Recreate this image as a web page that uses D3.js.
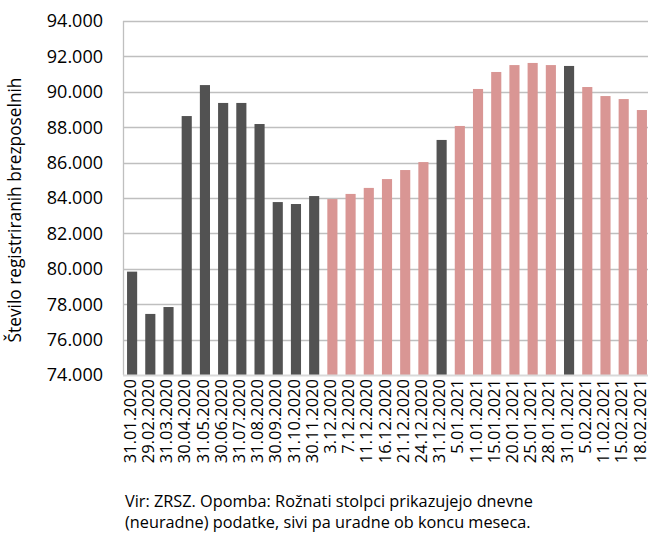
<!DOCTYPE html>
<html>
<head>
<meta charset="utf-8">
<script src="https://cdn.jsdelivr.net/npm/d3@7"></script>
<style>
  body { margin: 0; background: #ffffff; }
  svg { display: block; font-family: "Open Sans", sans-serif; }
</style>
</head>
<body>
<div id="chart"></div>
<script>
// dates (labels on the x axis)
var dates = [
  "31.01.2020", "29.02.2020", "31.03.2020", "30.04.2020", "31.05.2020", "30.06.2020",
  "31.07.2020", "31.08.2020", "30.09.2020", "31.10.2020", "30.11.2020",
  "3.12.2020", "7.12.2020", "11.12.2020", "16.12.2020", "21.12.2020", "24.12.2020",
  "31.12.2020",
  "5.01.2021", "11.01.2021", "15.01.2021", "20.01.2021", "25.01.2021", "28.01.2021",
  "31.01.2021",
  "5.02.2021", "11.02.2021", "15.02.2021", "18.02.2021"
]

// registered unemployed
var values = [
  79840, 77450, 77840, 88630, 90380, 89370,
  89370, 88180, 83770, 83660, 84110,
  83940, 84230, 84570, 85070, 85580, 86030,
  87280,
  88070, 90160, 91120, 91510, 91630, 91510,
  91460,
  90270, 89760, 89590, 88970
]

// official month-end figure (true) or daily unofficial (false)
var official = [
  true, true, true, true, true, true,
  true, true, true, true, true,
  false, false, false, false, false, false,
  true,
  false, false, false, false, false, false,
  true,
  false, false, false, false
]

var yTicks = [74000, 76000, 78000, 80000, 82000, 84000, 86000, 88000, 90000, 92000, 94000]

var noteLines = [
  "Vir: ZRSZ. Opomba: Rožnati stolpci prikazujejo dnevne",
  "(neuradne) podatke, sivi pa uradne ob koncu meseca."
]

var width = 648
var height = 533
var plot = { left: 123, right: 651, top: 21, bottom: 375 }

var svg = d3.select("#chart").append("svg")
  .attr("width", width)
  .attr("height", height)

var x = d3.scaleBand()
  .domain(dates)
  .range([plot.left, plot.right])
  .paddingInner(0.444)
  .paddingOuter(0.222)

var y = d3.scaleLinear()
  .domain([74000, 94000])
  .range([plot.bottom, plot.top])

var fmtThousands = function (v) {
  return d3.format(",.0f")(v).replace(/,/g, ".")
}

// gridlines
svg.append("g")
  .selectAll("line")
  .data(yTicks.slice(1))
  .enter().append("line")
  .attr("x1", plot.left)
  .attr("x2", width)
  .attr("y1", function (d) { return Math.round(y(d)) + 0.5 })
  .attr("y2", function (d) { return Math.round(y(d)) + 0.5 })
  .attr("stroke", "#bfbfbf")
  .attr("stroke-width", 1.3)

// left border
svg.append("line")
  .attr("x1", plot.left + 0.5)
  .attr("x2", plot.left + 0.5)
  .attr("y1", plot.top)
  .attr("y2", plot.bottom)
  .attr("stroke", "#bfbfbf")
  .attr("stroke-width", 1.3)

// bars
svg.append("g")
  .selectAll("rect")
  .data(values)
  .enter().append("rect")
  .attr("x", function (d, i) { return x(dates[i]) })
  .attr("width", x.bandwidth())
  .attr("y", function (d) { return y(d) })
  .attr("height", function (d) { return plot.bottom - y(d) })
  .attr("fill", function (d, i) { return official[i] ? "#525252" : "#d99694" })

// x axis line
svg.append("line")
  .attr("x1", plot.left)
  .attr("x2", width)
  .attr("y1", plot.bottom + 0.5)
  .attr("y2", plot.bottom + 0.5)
  .attr("stroke", "#d9d9d9")
  .attr("stroke-width", 2)

// y tick labels
svg.append("g")
  .selectAll("text")
  .data(yTicks)
  .enter().append("text")
  .attr("x", 103)
  .attr("y", function (d) { return y(d) })
  .attr("dy", "0.35em")
  .attr("text-anchor", "end")
  .attr("font-size", 18)
  .attr("fill", "#000")
  .text(fmtThousands)

// x tick labels
svg.append("g")
  .selectAll("text")
  .data(dates)
  .enter().append("text")
  .attr("transform", function (d) {
    return "translate(" + (x(d) + x.bandwidth() / 2 - 2) + "," + (plot.bottom + 4) + ") rotate(-90)"
  })
  .attr("dy", "0.34em")
  .attr("text-anchor", "end")
  .attr("font-size", 16.5)
  .attr("fill", "#000")
  .text(function (d) { return d })

// y axis title
svg.append("text")
  .attr("transform", "translate(15,210) rotate(-90)")
  .attr("dy", "0.35em")
  .attr("text-anchor", "middle")
  .attr("font-size", 17.3)
  .attr("fill", "#000")
  .text("Število registriranih brezposelnih")

// note
svg.append("g")
  .selectAll("text")
  .data(noteLines)
  .enter().append("text")
  .attr("x", 125)
  .attr("y", function (d, i) { return 507 + i * 21 })
  .attr("font-size", 16.3)
  .attr("fill", "#000")
  .text(function (d) { return d })
</script>
</body>
</html>
